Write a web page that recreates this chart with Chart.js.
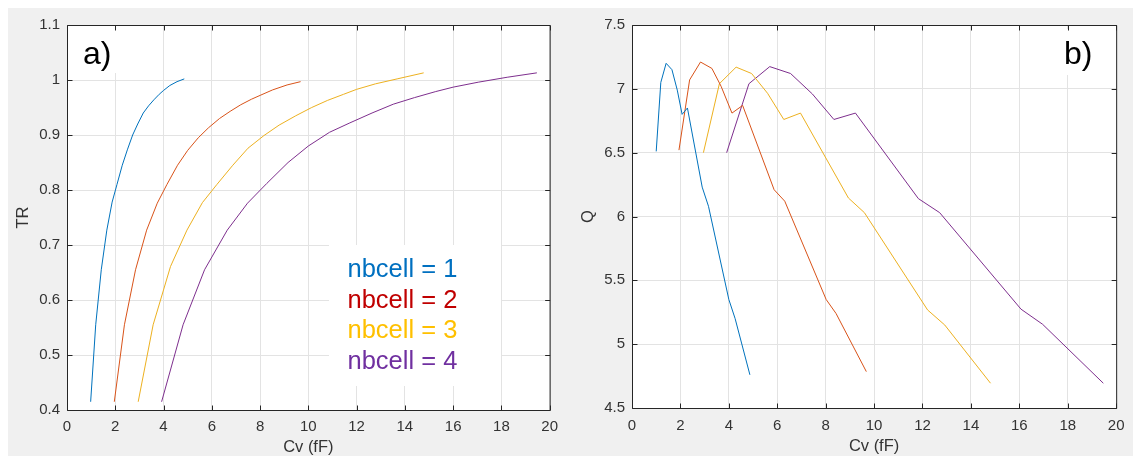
<!DOCTYPE html>
<html><head><meta charset="utf-8">
<script src="https://cdn.jsdelivr.net/npm/chart.js@4.4.1/dist/chart.umd.min.js"></script>
<style>
html,body{margin:0;padding:0;background:#fff;width:1133px;height:456px;overflow:hidden;}
#fig{position:absolute;left:8px;top:8px;width:1125px;height:448px;background:#f0f0f0;}
#c1{position:absolute;left:0;top:0;}
#c2{position:absolute;left:566px;top:0;}
</style></head><body>
<div id="fig"></div>
<canvas id="c1" width="566" height="456"></canvas>
<canvas id="c2" width="567" height="456"></canvas>
<script>
// ---------- data ----------
const seriesNames = ['nbcell = 1', 'nbcell = 2', 'nbcell = 3', 'nbcell = 4'];

// panel a) TR vs Cv (fF)
const trCv1 = [0.98, 1.19, 1.42, 1.65, 1.87, 2.07, 2.29, 2.5, 2.72, 2.93, 3.16, 3.38, 3.6, 3.82, 4.0, 4.26, 4.56, 4.86];
const trV1  = [0.415, 0.555, 0.655, 0.727, 0.778, 0.81, 0.845, 0.873, 0.9, 0.92, 0.94, 0.953, 0.964, 0.974, 0.981, 0.99, 0.997, 1.002];
const trCv2 = [1.96, 2.38, 2.84, 3.3, 3.74, 4.14, 4.58, 5.0, 5.44, 5.86, 6.32, 6.76, 7.2, 7.64, 8.0, 8.52, 9.12, 9.68];
const trV2  = [0.415, 0.555, 0.655, 0.727, 0.776, 0.81, 0.845, 0.872, 0.895, 0.913, 0.93, 0.943, 0.955, 0.965, 0.972, 0.982, 0.991, 0.997];
const trCv3 = [2.95, 3.57, 4.29, 4.97, 5.61, 6.21, 6.87, 7.5, 8.16, 8.79, 9.48, 10.14, 10.8, 11.46, 12.0, 12.78, 13.68, 14.78];
const trV3  = [0.415, 0.555, 0.661, 0.727, 0.777, 0.81, 0.845, 0.876, 0.899, 0.918, 0.935, 0.95, 0.963, 0.974, 0.983, 0.993, 1.002, 1.013];
const trCv4 = [3.92, 4.81, 5.7, 6.64, 7.48, 8.28, 9.16, 10.0, 10.88, 11.72, 12.64, 13.52, 14.4, 15.28, 16.0, 17.04, 18.24, 19.47];
const trV4  = [0.415, 0.555, 0.655, 0.727, 0.776, 0.812, 0.85, 0.88, 0.905, 0.922, 0.94, 0.956, 0.968, 0.979, 0.987, 0.996, 1.005, 1.013];

// panel b) Q vs Cv (fF)
const qCv1 = [1.0, 1.19, 1.41, 1.65, 1.87, 2.07, 2.29, 2.9, 3.16, 4.0, 4.26, 4.87];
const qV1  = [6.51, 7.05, 7.2, 7.15, 6.99, 6.8, 6.85, 6.23, 6.08, 5.35, 5.2, 4.76];
const qCv2 = [1.94, 2.38, 2.83, 3.3, 3.68, 4.13, 4.57, 5.87, 6.31, 8.02, 8.43, 9.68];
const qV2  = [6.52, 7.07, 7.21, 7.16, 7.02, 6.81, 6.87, 6.21, 6.12, 5.35, 5.24, 4.785];
const qCv3 = [2.95, 3.61, 4.3, 4.94, 5.6, 6.27, 6.96, 8.94, 9.6, 12.21, 12.92, 14.81];
const qV3  = [6.5, 7.04, 7.17, 7.12, 6.965, 6.76, 6.81, 6.145, 6.03, 5.268, 5.15, 4.694];
const qCv4 = [3.91, 4.83, 5.69, 6.55, 7.45, 8.34, 9.23, 11.83, 12.71, 16.07, 16.96, 19.47];
const qV4  = [6.5, 7.04, 7.174, 7.12, 6.96, 6.76, 6.81, 6.14, 6.03, 5.274, 5.156, 4.694];

// ticks
const xTicks = [0, 2, 4, 6, 8, 10, 12, 14, 16, 18, 20];
const xTickLabels = ['0', '2', '4', '6', '8', '10', '12', '14', '16', '18', '20'];
const trTicks = [0.4, 0.5, 0.6, 0.7, 0.8, 0.9, 1.0, 1.1];
const trTickLabels = ['0.4', '0.5', '0.6', '0.7', '0.8', '0.9', '1', '1.1'];
const qTicks = [4.5, 5, 5.5, 6, 6.5, 7, 7.5];
const qTickLabels = ['4.5', '5', '5.5', '6', '6.5', '7', '7.5'];

const axisXTitle = 'Cv (fF)';
const axisTRTitle = 'TR';
const axisQTitle = 'Q';
const panelLabels = ['a)', 'b)'];

// ---------- styling ----------
const FONT = '"Liberation Sans", Arial, Helvetica, sans-serif';
const TXT = '#333333';
const AXC = '#262626';
const GRID = '#e3e3e3';
const lineColors = ['#0072BD', '#D95319', '#EDB120', '#7E2F8E'];
const textColors = ['#0070C0', '#C00000', '#FFC000', '#7030A0'];

function pts(xs, ys) { return xs.map((x, i) => ({x: x, y: ys[i]})); }
function ds(xs, ys, i) {
  return {label: seriesNames[i], data: pts(xs, ys), borderColor: lineColors[i], borderWidth: 1,
          pointRadius: 0, tension: 0, fill: false};
}

const framePlugin = {
  id: 'frame',
  beforeDraw(chart) {
    const {ctx, chartArea: a} = chart;
    ctx.save(); ctx.fillStyle = '#ffffff';
    ctx.fillRect(a.left, a.top, a.right - a.left, a.bottom - a.top);
    ctx.restore();
  },
  beforeDatasetsDraw(chart, args, opts) {
    const ctx = chart.ctx;
    ctx.save(); ctx.fillStyle = '#ffffff';
    (opts.boxes || []).forEach(b => ctx.fillRect(b[0], b[1], b[2], b[3]));
    ctx.restore();
  },
  afterDraw(chart, args, opts) {
    const {ctx, chartArea: a, scales} = chart;
    ctx.save();
    ctx.strokeStyle = AXC; ctx.lineWidth = 1;
    const L = a.left + 0.5, R = a.right + 0.5, T = a.top + 0.5, B = a.bottom + 0.5;
    ctx.beginPath();
    ctx.rect(L, T, R - L, B - T);
    const tl = 5;
    scales.x.ticks.forEach(t => {
      const px = Math.round(scales.x.getPixelForValue(t.value)) + 0.5;
      ctx.moveTo(px, B); ctx.lineTo(px, B - tl);
      ctx.moveTo(px, T); ctx.lineTo(px, T + tl);
    });
    scales.y.ticks.forEach(t => {
      const py = Math.round(scales.y.getPixelForValue(t.value)) + 0.5;
      ctx.moveTo(L, py); ctx.lineTo(L + tl, py);
      ctx.moveTo(R, py); ctx.lineTo(R - tl, py);
    });
    ctx.stroke();
    ctx.textAlign = 'left'; ctx.textBaseline = 'alphabetic';
    (opts.texts || []).forEach(t => {
      ctx.fillStyle = t.color; ctx.font = t.size + 'px ' + FONT;
      ctx.fillText(t.text, t.x, t.y);
    });
    ctx.restore();
  }
};

function makeX(height, pad, tpad) {
  return {
    type: 'linear', min: 0, max: 20,
    afterBuildTicks: s => { s.ticks = xTicks.map(v => ({value: v})); },
    afterFit: s => { s.height = height; },
    ticks: {font: {family: FONT, size: 15}, color: TXT, padding: pad, maxRotation: 0, autoSkip: false,
            callback: (v, i) => xTickLabels[i]},
    grid: {color: GRID, drawTicks: false, lineWidth: 1},
    border: {display: false},
    title: {display: true, text: axisXTitle, color: TXT, font: {family: FONT, size: 16.5, lineHeight: 1},
            padding: {top: 0, bottom: tpad}}
  };
}
function makeY(min, max, ticks, labels, title, width, tpad) {
  return {
    type: 'linear', min: min, max: max,
    afterBuildTicks: s => { s.ticks = ticks.map(v => ({value: v})); },
    afterFit: s => { s.width = width; },
    ticks: {font: {family: FONT, size: 15}, color: TXT, padding: 7, autoSkip: false,
            callback: (v, i) => labels[i]},
    grid: {color: GRID, drawTicks: false, lineWidth: 1},
    border: {display: false},
    title: {display: true, text: title, color: TXT, font: {family: FONT, size: 16.5, lineHeight: 1},
            padding: {top: tpad, bottom: 0}}
  };
}

const legendTexts = seriesNames.map((n, i) => ({text: n, color: textColors[i], size: 25.5, x: 347.5, y: 277 + i * 30.5}));

new Chart(document.getElementById('c1'), {
  type: 'line',
  data: {datasets: [ds(trCv1, trV1, 0), ds(trCv2, trV2, 1), ds(trCv3, trV3, 2), ds(trCv4, trV4, 3)]},
  options: {
    responsive: false, animation: false,
    layout: {padding: {left: 0, top: 25, right: 11, bottom: 0}},
    scales: {x: makeX(46, 8, 0), y: makeY(0.4, 1.1, trTicks, trTickLabels, axisTRTitle, 67, 15)},
    plugins: {
      legend: {display: false}, tooltip: {enabled: false},
      frame: {
        boxes: [[77, 29, 44, 44], [329, 245, 172, 141]],
        texts: [{text: panelLabels[0], color: '#000000', size: 32, x: 83, y: 64}].concat(legendTexts)
      }
    }
  },
  plugins: [framePlugin]
});

new Chart(document.getElementById('c2'), {
  type: 'line',
  data: {datasets: [ds(qCv1, qV1, 0), ds(qCv2, qV2, 1), ds(qCv3, qV3, 2), ds(qCv4, qV4, 3)]},
  options: {
    responsive: false, animation: false,
    layout: {padding: {left: 0, top: 25, right: 14, bottom: 0}},
    scales: {x: makeX(48, 8.5, 1.75), y: makeY(4.5, 7.5, qTicks, qTickLabels, axisQTitle, 66, 13.75)},
    plugins: {
      legend: {display: false}, tooltip: {enabled: false},
      frame: {
        boxes: [[491, 29, 44, 46]],
        texts: [{text: panelLabels[1], color: '#000000', size: 32, x: 498, y: 64}]
      }
    }
  },
  plugins: [framePlugin]
});
</script>
</body></html>
